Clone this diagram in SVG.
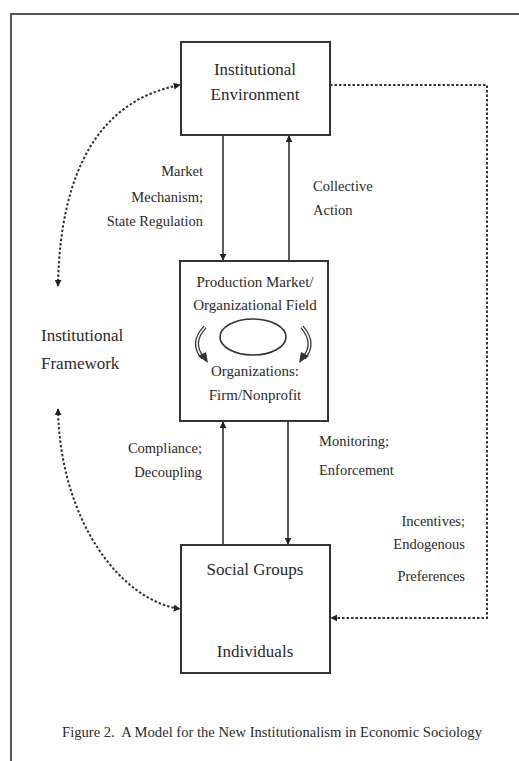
<svg xmlns="http://www.w3.org/2000/svg" width="519" height="761" viewBox="0 0 519 761">
<style>
  text { font-family: "Liberation Serif", "Times New Roman", serif; fill: #2a2a2a; }
  .n { font-size: 17px; }
  .m { font-size: 15px; }
  .l { font-size: 14.5px; }
  .box { fill: #fff; stroke: #333; stroke-width: 2; }
  .ln { fill: none; stroke: #333; stroke-width: 1.6; }
  .dot { fill: none; stroke: #333; stroke-width: 2; stroke-dasharray: 2.5 2; }
</style>
<defs>
  <marker id="ah" viewBox="0 0 10 10" refX="9" refY="5" markerWidth="7" markerHeight="7" orient="auto" markerUnits="userSpaceOnUse">
    <path d="M0,0 L10,5 L0,10 z" fill="#222"/>
  </marker>
  <marker id="ahs" viewBox="0 0 10 10" refX="9" refY="5" markerWidth="7" markerHeight="7" orient="auto-start-reverse" markerUnits="userSpaceOnUse">
    <path d="M0,0 L10,5 L0,10 z" fill="#222"/>
  </marker>
</defs>
<rect x="0" y="0" width="519" height="761" fill="#fff"/>
<rect id="frame" x="11" y="14" width="530" height="770" fill="none" stroke="#555" stroke-width="2"/>

<g id="connectors">
  <line class="ln" x1="223" y1="135" x2="223" y2="260" marker-end="url(#ah)"/>
  <line class="ln" x1="289" y1="261" x2="289" y2="136" marker-end="url(#ah)"/>
  <line class="ln" x1="223" y1="545" x2="223" y2="422" marker-end="url(#ah)"/>
  <line class="ln" x1="288" y1="421" x2="288" y2="544" marker-end="url(#ah)"/>
  <line class="ln" x1="233" y1="633" x2="233" y2="583" marker-end="url(#ah)"/>
  <line class="ln" x1="277" y1="581" x2="277" y2="632" marker-end="url(#ah)"/>
  <path class="dot" d="M330,85 H487 V618 H331" marker-end="url(#ah)"/>
  <path class="dot" d="M58,286 C60,170 100,100 180,85" marker-start="url(#ahs)" marker-end="url(#ah)"/>
  <path class="dot" d="M58,409 C60,520 120,600 180,609" marker-start="url(#ahs)" marker-end="url(#ah)"/>
</g>

<g id="institutional-environment">
  <rect class="box" x="181" y="42" width="149" height="93"/>
  <text class="n" x="255" y="75" text-anchor="middle">Institutional</text>
  <text class="n" x="255" y="100" text-anchor="middle">Environment</text>
</g>

<g id="organizational-field">
  <rect class="box" x="180" y="261" width="148" height="160"/>
  <text class="m" x="255" y="287" text-anchor="middle">Production Market/</text>
  <text class="m" x="255" y="310" text-anchor="middle">Organizational Field</text>
  <ellipse cx="253" cy="337" rx="33" ry="18" fill="none" stroke="#333" stroke-width="1.6"/>
  <path d="M205,327 Q190,343 203,358" fill="none" stroke="#333" stroke-width="4"/>
  <path d="M205,327 Q190,343 203,358" fill="none" stroke="#fff" stroke-width="1.5"/>
  <path d="M198,356 L208,363 L206,352 z" fill="#333"/>
  <path d="M302,327 Q316,343 304,358" fill="none" stroke="#333" stroke-width="4"/>
  <path d="M302,327 Q316,343 304,358" fill="none" stroke="#fff" stroke-width="1.5"/>
  <path d="M309,356 L299,363 L301,352 z" fill="#333"/>
  <text class="m" x="255" y="376" text-anchor="middle">Organizations:</text>
  <text class="m" x="255" y="400" text-anchor="middle">Firm/Nonprofit</text>
</g>

<g id="social-groups">
  <rect class="box" x="181" y="545" width="149" height="128"/>
  <text class="n" x="255" y="575" text-anchor="middle">Social Groups</text>
  <text class="n" x="255" y="657" text-anchor="middle">Individuals</text>
</g>

<g id="institutional-framework">
  <text class="n" x="41" y="341">Institutional</text>
  <text class="n" x="41" y="369">Framework</text>
</g>

<g id="labels">
  <text class="l" x="203" y="176" text-anchor="end">Market</text>
  <text class="l" x="203" y="202" text-anchor="end">Mechanism;</text>
  <text class="l" x="203" y="226" text-anchor="end">State Regulation</text>
  <text class="l" x="313" y="191">Collective</text>
  <text class="l" x="313" y="215">Action</text>
  <text class="l" x="202" y="453" text-anchor="end">Compliance;</text>
  <text class="l" x="202" y="477" text-anchor="end">Decoupling</text>
  <text class="l" x="319" y="446">Monitoring;</text>
  <text class="l" x="319" y="475">Enforcement</text>
  <text class="l" x="465" y="526" text-anchor="end">Incentives;</text>
  <text class="l" x="465" y="549" text-anchor="end">Endogenous</text>
  <text class="l" x="465" y="581" text-anchor="end">Preferences</text>
</g>

<text id="caption" x="272" y="737" text-anchor="middle" style="font-size:14.6px">Figure 2.&#160; A Model for the New Institutionalism in Economic Sociology</text>
</svg>
